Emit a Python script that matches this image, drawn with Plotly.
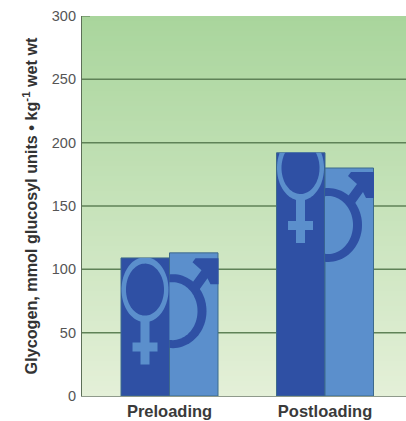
import numpy as np
import plotly.graph_objects as go

# Muscle glycogen before and after carbohydrate loading, by sex
phases = ["Preloading", "Postloading"]
female = [109, 192]
male = [113, 180]
y_ticks = [0, 50, 100, 150, 200, 250, 300]
y_title = "Glycogen, mmol glucosyl units • kg<sup>-1</sup> wet wt"

# Heights of the sex symbols inside each pair of bars
female_symbol_y = [84, 180]
male_symbol_y = [67, 135]

DARK = "#2f50a4"
LIGHT = "#5b8fcc"
GRID = "#5f8257"
BAR_EDGE = "#3d6a8c"

# Plot box and the scale used to size the symbols
L, R, T, B = 82, 406, 16, 396
STEP_PX = 155.5
X_UNIT = 1 / STEP_PX
Y_UNIT = 300 / (B - T)
BAR_W = 48.5 * X_UNIT
x_range = [-87.5 * X_UNIT, 236.5 * X_UNIT]


def path(xs, ys):
    pts = [f"{x:.4f},{y:.3f}" for x, y in zip(xs, ys)]
    return "M" + " L".join(pts) + " Z"


def blob(cx, cy, rx, ry, xlim, ylim, fill):
    """Ellipse measured in pixels around (cx, cy), clamped to its bar."""
    t = np.linspace(0, 2 * np.pi, 90)
    xs = np.clip(cx + rx * X_UNIT * np.cos(t), *xlim)
    ys = np.clip(cy + ry * Y_UNIT * np.sin(t), *ylim)
    return dict(type="path", path=path(xs, ys), fillcolor=fill,
                line=dict(width=0), layer="above")


def poly(cx, cy, pts, fill):
    """Polygon given in pixels right of and above (cx, cy)."""
    xs = [cx + p[0] * X_UNIT for p in pts]
    ys = [cy + p[1] * Y_UNIT for p in pts]
    return dict(type="path", path=path(xs, ys), fillcolor=fill,
                line=dict(width=0), layer="above")


shapes = []

# Vertical gradient behind the plot, built from thin bands
bands = 76
top_rgb, low_rgb = np.array([169, 213, 156]), np.array([228, 240, 216])
for i in range(bands):
    c = top_rgb + (low_rgb - top_rgb) * (i + 0.5) / bands
    shapes.append(dict(type="rect", xref="paper", yref="y", x0=0, x1=1,
                       y0=300 - i * 300 / bands, y1=300 - (i + 1) * 300 / bands,
                       fillcolor=f"rgb({c[0]:.0f},{c[1]:.0f},{c[2]:.0f})",
                       line=dict(width=0), layer="below"))

for v in y_ticks[1:-1]:
    shapes.append(dict(type="line", xref="paper", yref="y", x0=0, x1=1, y0=v, y1=v,
                       line=dict(color=GRID, width=1.5), layer="below"))
shapes.append(dict(type="line", xref="x", yref="y", x0=x_range[0],
                   x1=x_range[0] + 8 * X_UNIT, y0=300, y1=300,
                   line=dict(color=GRID, width=1.2), layer="below"))

# Male symbol sits on the right bar, female symbol overlaps it from the left
for i in range(len(phases)):
    mid = i
    f_top, m_top = female[i], male[i]
    fy, my = female_symbol_y[i], male_symbol_y[i]
    m_xlim = (mid, mid + BAR_W)
    m_ylim = (0, m_top)

    mx = mid + 3 * X_UNIT
    shapes.append(blob(mx, my, 34, 37, m_xlim, m_ylim, DARK))
    shapes.append(blob(mx, my, 25, 29, m_xlim, m_ylim, LIGHT))
    shapes.append(poly(mid, my, [(21, 26), (32, 41), (23, 49), (26, 53), (49, 53),
                                 (49, 27), (41, 27), (38, 33), (28, 19)], DARK))

    fx = mid - 24.5 * X_UNIT
    f_xlim = (mid - BAR_W, mid)
    f_ylim = (0, f_top)
    shapes.append(blob(fx, fy, 23.5, 32.5, f_xlim, f_ylim, LIGHT))
    shapes.append(blob(fx, fy, 19, 26, f_xlim, f_ylim, DARK))
    shapes.append(poly(fx, fy, [(-4.5, -30), (4.5, -30), (4.5, -53), (12.5, -53),
                                (12.5, -62), (4.5, -62), (4.5, -75), (-4.5, -75),
                                (-4.5, -62), (-12.5, -62), (-12.5, -53), (-4.5, -53)], LIGHT))

fig = go.Figure()
fig.add_bar(x=list(range(len(phases))), y=female, name="Women", offset=-BAR_W, width=BAR_W,
            marker=dict(color=DARK, line=dict(color=BAR_EDGE, width=1)))
fig.add_bar(x=list(range(len(phases))), y=male, name="Men", offset=0, width=BAR_W,
            marker=dict(color=LIGHT, line=dict(color=BAR_EDGE, width=1)))

fig.update_layout(
    width=406, height=421,
    margin=dict(l=L, r=406 - R, t=T, b=421 - B, autoexpand=False),
    paper_bgcolor="white", plot_bgcolor="white",
    showlegend=False, barmode="overlay", shapes=shapes,
    font=dict(family="Liberation Sans, Arial, sans-serif"),
)
fig.update_xaxes(
    range=x_range, tickmode="array", tickvals=list(range(len(phases))), ticktext=phases,
    tickfont=dict(size=16.5, color="#3a3a3a", weight="bold"),
    showgrid=False, zeroline=False, ticks="", ticklen=0,
    showline=True, linecolor="#8f9a8b", linewidth=1,
)
fig.update_yaxes(
    range=[0, 300], tickmode="array", tickvals=y_ticks,
    tickfont=dict(size=14.5, color="#555555"), ticklabelstandoff=2,
    showgrid=False, zeroline=False, ticks="", showline=True, linecolor="#5d6f58", linewidth=1.2,
    title=dict(text=y_title, font=dict(size=16.2, color="#333333", weight="bold"), standoff=10),
)

fig.write_html("out.html")
